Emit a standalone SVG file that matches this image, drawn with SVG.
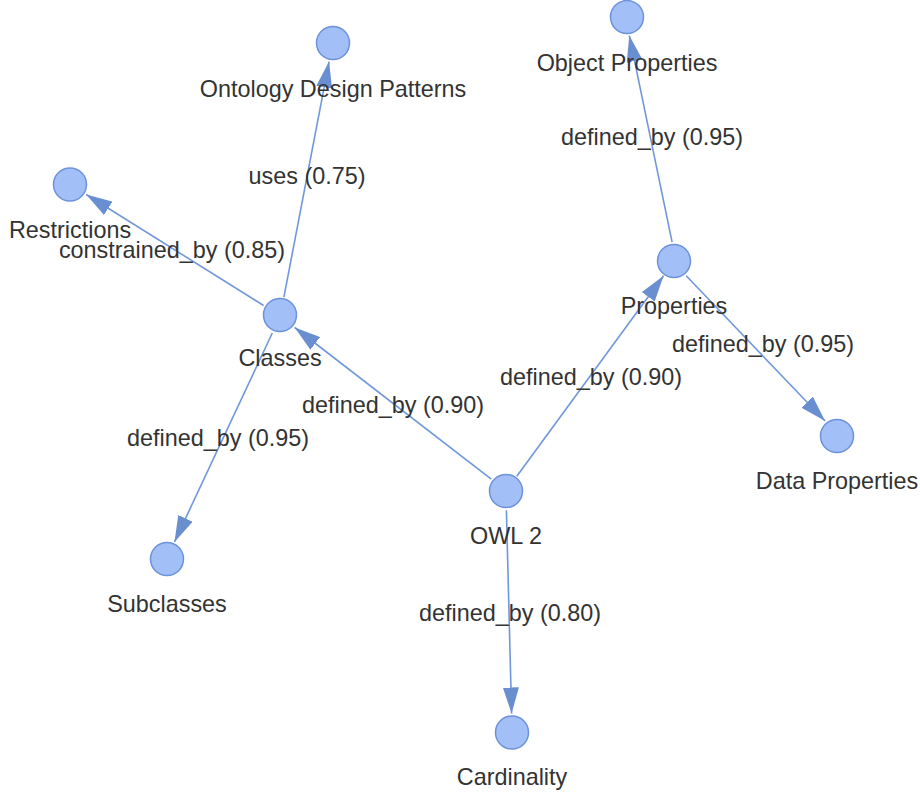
<svg xmlns="http://www.w3.org/2000/svg" width="920" height="793" viewBox="0 0 920 793">
  <style>
    .node circle { fill: #a2c0f7; stroke: #6c92da; stroke-width: 1.5; }
    .node text { font-family: "Liberation Sans", Arial, sans-serif; font-size: 23.4px; fill: #333333; text-anchor: middle; }
    .edge line { stroke: #7097da; stroke-width: 1.6; fill: none; }
    .edge text { font-family: "Liberation Sans", Arial, sans-serif; font-size: 23.4px; fill: #333333; text-anchor: middle; dominant-baseline: central; }
  </style>
  <defs>
    <marker id="arrow" viewBox="0 0 26 16" refX="26" refY="8" markerWidth="26" markerHeight="16" markerUnits="userSpaceOnUse" orient="auto">
      <path d="M0,0 L26,8 L0,16 Z" fill="#6a8fd0"/>
    </marker>
  </defs>

  <!-- connectors: lines end on the circle edge (r + stroke) -->
  <g id="edges">
    <g class="edge" id="e-classes-odp">
      <line x1="283.9" y1="297.1" x2="329.1" y2="61.6" marker-end="url(#arrow)"/>
      <text x="307" y="176">uses (0.75)</text>
    </g>
    <g class="edge" id="e-classes-restrictions">
      <line x1="263.6" y1="305.5" x2="86.2" y2="194.5" marker-end="url(#arrow)"/>
      <text x="172" y="250">constrained_by (0.85)</text>
    </g>
    <g class="edge" id="e-owl-classes">
      <line x1="491.3" y1="479.2" x2="294.7" y2="327.5" marker-end="url(#arrow)"/>
      <text x="393" y="405">defined_by (0.90)</text>
    </g>
    <g class="edge" id="e-classes-subclasses">
      <line x1="272.3" y1="333.0" x2="174.5" y2="541.9" marker-end="url(#arrow)"/>
      <text x="218" y="438">defined_by (0.95)</text>
    </g>
    <g class="edge" id="e-owl-properties">
      <line x1="516.8" y1="476.2" x2="663.6" y2="275.8" marker-end="url(#arrow)"/>
      <text x="591" y="377">defined_by (0.90)</text>
    </g>
    <g class="edge" id="e-properties-object">
      <line x1="672.1" y1="242.1" x2="629.3" y2="35.6" marker-end="url(#arrow)"/>
      <text x="652" y="137">defined_by (0.95)</text>
    </g>
    <g class="edge" id="e-properties-data">
      <line x1="686.2" y1="275.8" x2="825.1" y2="421.0" marker-end="url(#arrow)"/>
      <text x="763" y="344">defined_by (0.95)</text>
    </g>
    <g class="edge" id="e-owl-cardinality">
      <line x1="506.4" y1="510.2" x2="511.6" y2="713.5" marker-end="url(#arrow)"/>
      <text x="510" y="613">defined_by (0.80)</text>
    </g>
  </g>

  <!-- nodes -->
  <g class="node" id="n-odp">
    <circle cx="333" cy="43" r="16.5"/>
    <text x="333" y="97">Ontology Design Patterns</text>
  </g>
  <g class="node" id="n-object-properties">
    <circle cx="627" cy="17" r="16.5"/>
    <text x="627" y="71">Object Properties</text>
  </g>
  <g class="node" id="n-restrictions">
    <circle cx="70" cy="184.5" r="16.5"/>
    <text x="70" y="238">Restrictions</text>
  </g>
  <g class="node" id="n-properties">
    <circle cx="674" cy="261" r="16.5"/>
    <text x="674" y="314">Properties</text>
  </g>
  <g class="node" id="n-classes">
    <circle cx="280" cy="315" r="16.5"/>
    <text x="280" y="366">Classes</text>
  </g>
  <g class="node" id="n-data-properties">
    <circle cx="837" cy="436" r="16.5"/>
    <text x="837" y="489">Data Properties</text>
  </g>
  <g class="node" id="n-owl2">
    <circle cx="506" cy="491" r="16.5"/>
    <text x="506" y="544">OWL 2</text>
  </g>
  <g class="node" id="n-subclasses">
    <circle cx="167" cy="559" r="16.5"/>
    <text x="167" y="612">Subclasses</text>
  </g>
  <g class="node" id="n-cardinality">
    <circle cx="512" cy="732.5" r="16.5"/>
    <text x="512" y="785">Cardinality</text>
  </g>
</svg>
